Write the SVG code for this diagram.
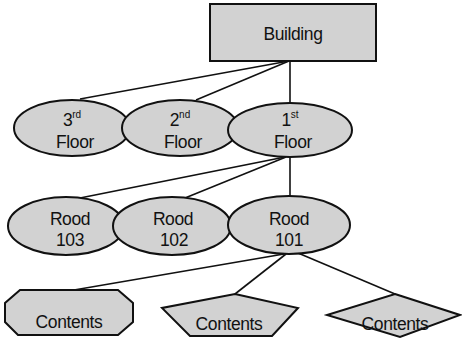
<svg xmlns="http://www.w3.org/2000/svg" width="462" height="340" viewBox="0 0 462 340">
  <style>
    .shape { fill: #d2d2d2; stroke: #111; stroke-width: 2; }
    .link { stroke: #111; stroke-width: 1.6; fill: none; }
    text { font-family: "Liberation Sans", Arial, sans-serif; font-size: 17.5px; letter-spacing: -0.4px; fill: #111; text-anchor: middle; }
    .sup { font-size: 10px; letter-spacing: 0; }
  </style>
  <rect width="462" height="340" fill="#ffffff"/>

  <!-- connectors -->
  <g id="connectors" class="link">
    <line x1="289" y1="61" x2="80" y2="99"/>
    <line x1="289" y1="61" x2="196" y2="100"/>
    <line x1="290" y1="61" x2="290" y2="103"/>
    <line x1="285" y1="157" x2="80" y2="198"/>
    <line x1="286" y1="157" x2="185" y2="198"/>
    <line x1="290" y1="157" x2="290" y2="197"/>
    <line x1="284" y1="254" x2="74" y2="290"/>
    <line x1="286" y1="254" x2="235" y2="294"/>
    <line x1="298" y1="253" x2="395" y2="294"/>
  </g>

  <!-- top level -->
  <g id="building">
    <rect class="shape" x="210" y="4" width="166" height="57"/>
    <text x="293" y="40">Building</text>
  </g>

  <!-- floors -->
  <g id="floor3">
    <ellipse class="shape" cx="72" cy="128" rx="58" ry="28"/>
    <text x="72" y="126">3<tspan class="sup" dy="-8">rd</tspan></text>
    <text x="75" y="148">Floor</text>
  </g>
  <g id="floor2">
    <ellipse class="shape" cx="180" cy="128" rx="58" ry="28"/>
    <text x="180" y="126">2<tspan class="sup" dy="-8">nd</tspan></text>
    <text x="183" y="148">Floor</text>
  </g>
  <g id="floor1">
    <ellipse class="shape" cx="290" cy="130" rx="62" ry="27"/>
    <text x="290" y="126">1<tspan class="sup" dy="-8">st</tspan></text>
    <text x="293" y="148">Floor</text>
  </g>

  <!-- rooms -->
  <g id="room103">
    <ellipse class="shape" cx="66" cy="226" rx="58" ry="29"/>
    <text x="70" y="225">Rood</text>
    <text x="70" y="246">103</text>
  </g>
  <g id="room102">
    <ellipse class="shape" cx="172" cy="226" rx="59" ry="29"/>
    <text x="173" y="225">Rood</text>
    <text x="174" y="246">102</text>
  </g>
  <g id="room101">
    <ellipse class="shape" cx="289" cy="225" rx="61" ry="29"/>
    <text x="289" y="225">Rood</text>
    <text x="289" y="246">101</text>
  </g>

  <!-- contents -->
  <g id="contents-octagon">
    <polygon class="shape" points="20,290 118,290 133,303 133,322 118,335 18,335 5,322 5,303"/>
    <text x="69" y="328">Contents</text>
  </g>
  <g id="contents-pentagon">
    <polygon class="shape" points="235,294 298,308 272,336 190,336 162,308"/>
    <text x="229" y="330">Contents</text>
  </g>
  <g id="contents-diamond">
    <polygon class="shape" points="395,294 460,315 400,337 327,315"/>
    <text x="395" y="330">Contents</text>
  </g>
</svg>
